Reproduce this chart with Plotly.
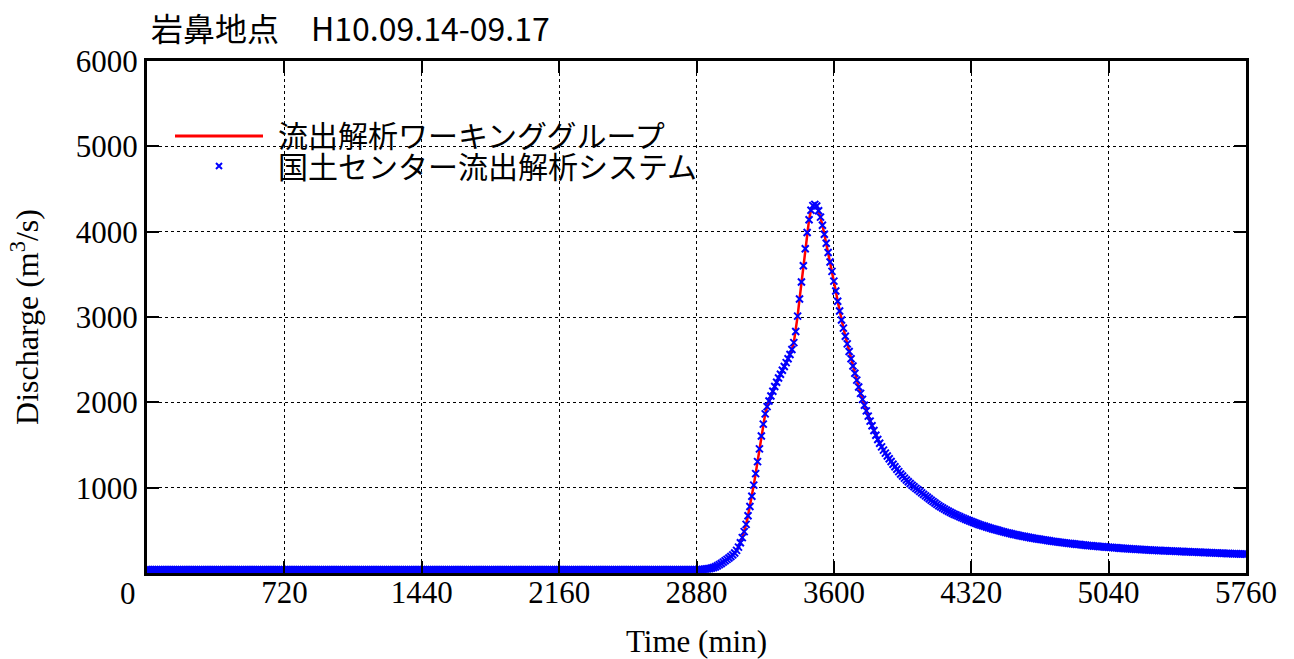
import plotly.graph_objects as go

# ---------------- data ----------------
TITLE_SITE = "岩鼻地点"
TITLE_PERIOD = "H10.09.14-09.17"
SERIES_LINE_NAME = "流出解析ワーキンググループ"
SERIES_MARK_NAME = "国土センター流出解析システム"

X_TICKS = [720, 1440, 2160, 2880, 3600, 4320, 5040, 5760]
Y_TICKS = [1000, 2000, 3000, 4000, 5000, 6000]

# time in minutes, 10-minute steps from 0 to 5760
time_min = list(range(0, 5761, 10))

# discharge (m3/s), one value per 10 minutes
discharge = [
    # 0 - 2870 : base flow
    40, 40, 40, 40, 40, 40, 40, 40, 40, 40, 40, 40,
    40, 40, 40, 40, 40, 40, 40, 40, 40, 40, 40, 40,
    40, 40, 40, 40, 40, 40, 40, 40, 40, 40, 40, 40,
    40, 40, 40, 40, 40, 40, 40, 40, 40, 40, 40, 40,
    40, 40, 40, 40, 40, 40, 40, 40, 40, 40, 40, 40,
    40, 40, 40, 40, 40, 40, 40, 40, 40, 40, 40, 40,
    40, 40, 40, 40, 40, 40, 40, 40, 40, 40, 40, 40,
    40, 40, 40, 40, 40, 40, 40, 40, 40, 40, 40, 40,
    40, 40, 40, 40, 40, 40, 40, 40, 40, 40, 40, 40,
    40, 40, 40, 40, 40, 40, 40, 40, 40, 40, 40, 40,
    40, 40, 40, 40, 40, 40, 40, 40, 40, 40, 40, 40,
    40, 40, 40, 40, 40, 40, 40, 40, 40, 40, 40, 40,
    40, 40, 40, 40, 40, 40, 40, 40, 40, 40, 40, 40,
    40, 40, 40, 40, 40, 40, 40, 40, 40, 40, 40, 40,
    40, 40, 40, 40, 40, 40, 40, 40, 40, 40, 40, 40,
    40, 40, 40, 40, 40, 40, 40, 40, 40, 40, 40, 40,
    40, 40, 40, 40, 40, 40, 40, 40, 40, 40, 40, 40,
    40, 40, 40, 40, 40, 40, 40, 40, 40, 40, 40, 40,
    40, 40, 40, 40, 40, 40, 40, 40, 40, 40, 40, 40,
    40, 40, 40, 40, 40, 40, 40, 40, 40, 40, 40, 40,
    40, 40, 40, 40, 40, 40, 40, 40, 40, 40, 40, 40,
    40, 40, 40, 40, 40, 40, 40, 40, 40, 40, 40, 40,
    40, 40, 40, 40, 40, 40, 40, 40, 40, 40, 40, 40,
    40, 40, 40, 40, 40, 40, 40, 40, 40, 40, 40, 40,
    # 2880 - 5760
    40, 40, 41, 42, 44, 46, 49, 53, 58, 65, 74, 85,
    98, 112, 127, 143, 160, 176, 193, 212, 235, 265, 303, 355,
    415, 485, 570, 670, 780, 900, 1030, 1165, 1305, 1455, 1605, 1745,
    1865, 1950, 2015, 2075, 2130, 2185, 2235, 2285, 2330, 2375, 2420, 2465,
    2510, 2560, 2620, 2700, 2830, 3010, 3210, 3410, 3600, 3800, 3990, 4140,
    4250, 4305, 4320, 4300, 4245, 4170, 4075, 3970, 3865, 3755, 3645, 3535,
    3420, 3305, 3185, 3070, 2965, 2870, 2775, 2685, 2595, 2510, 2425, 2340,
    2260, 2180, 2105, 2035, 1965, 1900, 1838, 1780, 1725, 1670, 1615, 1565,
    1520, 1478, 1440, 1405, 1371, 1338, 1306, 1275, 1245, 1216, 1188, 1161,
    1136, 1112, 1090, 1069, 1048, 1029, 1010, 992, 975, 957, 939, 921,
    904, 887, 870, 853, 836, 820, 804, 789, 775, 762, 749, 736,
    724, 712, 700, 689, 679, 669, 659, 649, 640, 630, 621, 612,
    603, 594, 585, 577, 569, 561, 554, 547, 540, 533, 526, 519,
    513, 506, 500, 494, 488, 482, 476, 470, 465, 460, 455, 450,
    445, 440, 435, 431, 427, 422, 418, 414, 410, 406, 402, 399,
    395, 391, 388, 385, 381, 378, 374, 371, 368, 365, 362, 359,
    356, 353, 350, 347, 345, 342, 340, 337, 335, 333, 330, 328,
    326, 323, 321, 319, 317, 315, 313, 311, 309, 307, 305, 303,
    302, 300, 298, 296, 295, 293, 291, 290, 288, 287, 285, 284,
    282, 281, 279, 278, 277, 275, 274, 272, 271, 270, 269, 267,
    266, 265, 264, 263, 262, 261, 260, 259, 258, 257, 256, 255,
    254, 253, 252, 251, 250, 249, 249, 248, 247, 246, 245, 244,
    243, 242, 241, 240, 239, 238, 237, 236, 235, 234, 233, 232,
    231, 230, 229, 228, 227, 226, 226, 225, 224, 223, 223, 222,
    221,
]
assert len(time_min) == len(discharge)

# ---------------- figure ----------------
W, H = 1294, 659
ML, MR, MT, MB = 147, 48, 61, 86
PW, PH = W - ML - MR, H - MT - MB


def px_x(px):
    return (px - ML) / PW


def px_y(py):
    return (H - MB - py) / PH


SERIF = "Liberation Serif, Times New Roman, serif"
GOTHIC = "Noto Sans CJK JP, sans-serif"

fig = go.Figure()
fig.add_trace(go.Scatter(
    x=time_min, y=discharge, mode="lines", name=SERIES_LINE_NAME,
    line=dict(color="#ff0000", width=2.5), showlegend=False,
))
fig.add_trace(go.Scatter(
    x=time_min, y=discharge, mode="markers", name=SERIES_MARK_NAME,
    marker=dict(symbol="x-thin", size=7, line=dict(color="#0000ff", width=2)),
    showlegend=False,
))

axis_common = dict(
    ticks="inside", ticklen=12, tickwidth=2, tickcolor="black",
    showline=True, linewidth=3, linecolor="black", mirror="ticks",
    showgrid=True, gridcolor="black", griddash="dot", gridwidth=1,
    zeroline=False, tickfont=dict(family=SERIF, size=31, color="black"),
)

fig.update_layout(
    width=W, height=H,
    margin=dict(l=ML, r=MR, t=MT, b=MB, autoexpand=False),
    paper_bgcolor="white", plot_bgcolor="white",
    xaxis=dict(
        range=[0, 5760], tickvals=X_TICKS, ticktext=[str(v) for v in X_TICKS],
        ticklabelstandoff=-10,
        title=dict(text="Time (min)", font=dict(family=SERIF, size=31, color="black"), standoff=26),
        **axis_common,
    ),
    yaxis=dict(
        range=[0, 6000], tickvals=Y_TICKS, ticktext=[str(v) for v in Y_TICKS],
        title=dict(text="Discharge (m<sup>3</sup>/s)", font=dict(family=SERIF, size=32, color="black"), standoff=28),
        **axis_common,
    ),
    showlegend=False,
)

annotations = [
    dict(text=TITLE_SITE, xref="paper", yref="paper", x=px_x(149), y=px_y(27),
         xanchor="left", yanchor="middle", showarrow=False,
         font=dict(family=GOTHIC, size=32, color="black")),
    dict(text=TITLE_PERIOD, xref="paper", yref="paper", x=px_x(309), y=px_y(27),
         xanchor="left", yanchor="middle", showarrow=False,
         font=dict(family=GOTHIC, size=32, color="black")),
    dict(text="0", xref="paper", yref="paper", x=px_x(128), y=px_y(593),
         xanchor="center", yanchor="middle", showarrow=False,
         font=dict(family=SERIF, size=31, color="black")),
    dict(text=SERIES_LINE_NAME, xref="paper", yref="paper", x=px_x(276), y=px_y(134),
         xanchor="left", yanchor="middle", showarrow=False,
         font=dict(family=GOTHIC, size=30, color="black")),
    dict(text=SERIES_MARK_NAME, xref="paper", yref="paper", x=px_x(276), y=px_y(165),
         xanchor="left", yanchor="middle", showarrow=False,
         font=dict(family=GOTHIC, size=30, color="black")),
]
fig.update_layout(annotations=annotations)

shapes = [
    dict(type="line", xref="paper", yref="paper",
         x0=px_x(175), x1=px_x(263), y0=px_y(136), y1=px_y(136),
         line=dict(color="#ff0000", width=3)),
    dict(type="path", xref="paper", yref="paper",
         xsizemode="pixel", ysizemode="pixel",
         xanchor=px_x(219), yanchor=px_y(166),
         path="M-3,-3L3,3M-3,3L3,-3",
         line=dict(color="#0000ff", width=2)),
]
fig.update_layout(shapes=shapes)

# remove the browser's default 8px page margin so the figure fills the window
fig.write_html(
    "out.html",
    config={"displayModeBar": False},
    post_script="document.body.style.margin='0';",
)
